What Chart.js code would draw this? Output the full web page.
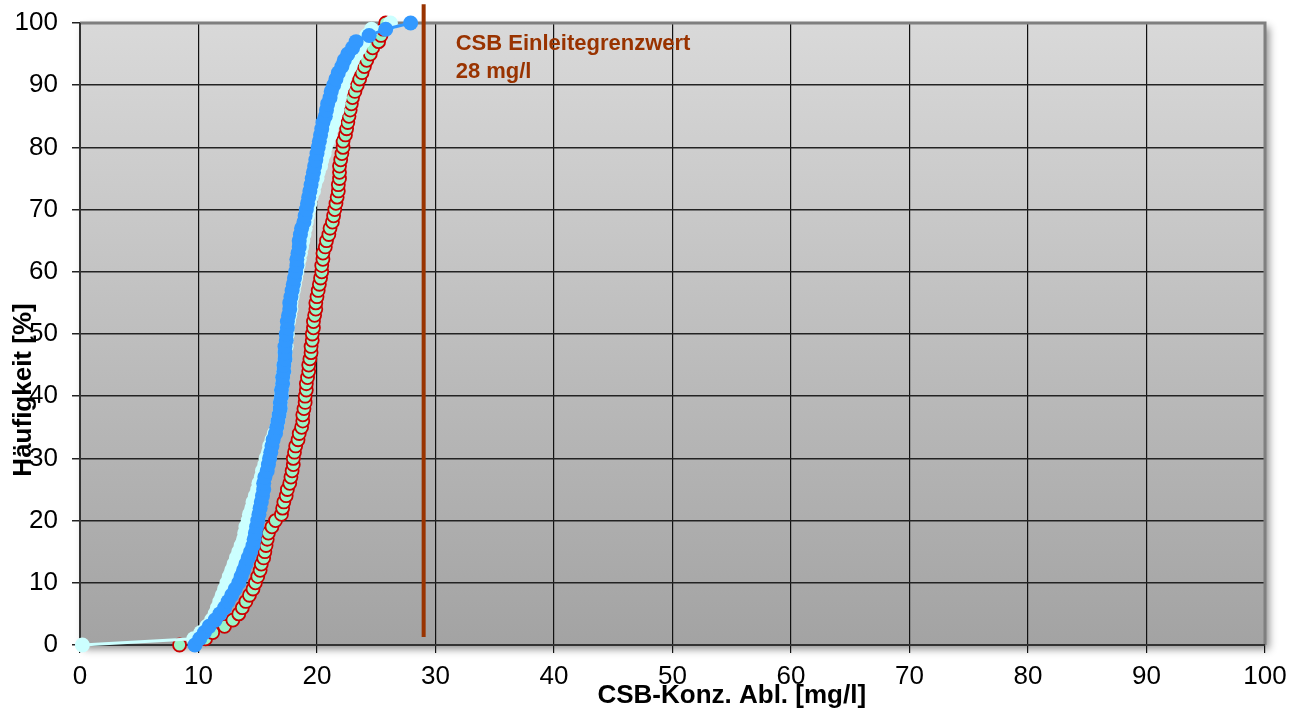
<!DOCTYPE html>
<html>
<head>
<meta charset="utf-8">
<script src="https://cdn.jsdelivr.net/npm/chart.js@4/dist/chart.umd.min.js"></script>
<style>
  html, body { margin: 0; padding: 0; background: #fff; }
  #wrap { width: 1291px; height: 714px; position: relative; }
</style>
</head>
<body>
<div id="wrap"><canvas id="chart"></canvas></div>
<script>
// ---- data ----
// cumulative frequency [%] – shared by all three curves
const pct = [0,1,2,3,4,5,6,7,8,9,10,11,12,13,14,15,16,17,18,19,20,21,22,23,24,25,26,27,28,29,30,
  31,32,33,34,35,36,37,38,39,40,41,42,43,44,45,46,47,48,49,50,51,52,53,54,55,56,57,58,59,60,
  61,62,63,64,65,66,67,68,69,70,71,72,73,74,75,76,77,78,79,80,81,82,83,84,85,86,87,88,89,90,
  91,92,93,94,95,96,97,98,99,100];

// CSB concentration [mg/l] at each percentage
const concBlue = [9.7,10.1,10.5,10.9,11.4,11.8,12.2,12.5,12.8,13.1,13.4,13.6,13.8,14.0,14.2,14.4,14.6,14.7,14.8,14.9,15.0,
  15.1,15.2,15.3,15.4,15.5,15.5,15.6,15.8,15.9,16.0,16.1,16.2,16.3,16.5,16.6,16.7,16.8,16.9,16.9,17.0,
  17.0,17.1,17.1,17.2,17.2,17.3,17.3,17.3,17.4,17.4,17.5,17.5,17.6,17.7,17.7,17.8,17.9,18.0,18.1,18.2,
  18.3,18.3,18.4,18.5,18.5,18.6,18.7,18.9,19.0,19.1,19.2,19.3,19.4,19.5,19.6,19.7,19.8,19.9,20.0,20.1,
  20.2,20.3,20.4,20.5,20.7,20.8,20.9,21.1,21.2,21.4,21.6,21.8,22.1,22.3,22.6,23.0,23.3,24.4,25.8,27.9];

const concCyan = [0.2,9.6,10.2,10.7,11.1,11.4,11.6,11.8,12.0,12.2,12.4,12.6,12.8,13.0,13.2,13.4,13.6,13.8,13.9,14.0,14.2,
  14.3,14.5,14.6,14.8,15.0,15.1,15.3,15.4,15.6,15.7,15.9,16.0,16.2,16.4,16.6,16.7,16.8,16.9,16.9,17.0,
  17.0,17.1,17.1,17.2,17.2,17.3,17.3,17.4,17.4,17.5,17.5,17.6,17.7,17.8,17.8,17.9,18.0,18.1,18.2,18.3,
  18.4,18.5,18.6,18.7,18.8,18.9,19.0,19.1,19.2,19.3,19.4,19.5,19.7,19.8,20.0,20.1,20.3,20.4,20.6,20.7,
  20.9,21.1,21.2,21.4,21.5,21.7,21.8,21.9,22.0,22.2,22.3,22.5,22.8,23.0,23.3,23.6,23.9,24.2,24.6,26.2];

const concRed = [8.4,10.6,11.2,12.2,12.9,13.4,13.7,14.0,14.3,14.6,14.8,15.0,15.2,15.3,15.5,15.6,15.7,15.8,15.9,16.2,16.5,
  17.0,17.1,17.2,17.4,17.5,17.7,17.8,17.9,18.0,18.0,18.1,18.2,18.4,18.5,18.7,18.8,18.8,18.9,19.0,19.0,
  19.1,19.1,19.2,19.3,19.3,19.4,19.5,19.5,19.6,19.6,19.7,19.7,19.8,19.9,19.9,20.0,20.1,20.2,20.3,20.4,
  20.4,20.5,20.5,20.7,20.8,21.0,21.1,21.3,21.4,21.5,21.6,21.7,21.8,21.8,21.9,21.9,21.9,22.0,22.1,22.2,
  22.2,22.4,22.5,22.6,22.7,22.8,22.9,23.0,23.2,23.4,23.6,23.8,24.0,24.2,24.5,24.7,25.2,25.4,25.6,25.8];

// limit line
const limitX = [29, 29];
const limitY = [1.3, 103];
const limitLabel = ["CSB Einleitegrenzwert", "28 mg/l"];

const xTicks = [0,10,20,30,40,50,60,70,80,90,100];
const yTicks = [0,10,20,30,40,50,60,70,80,90,100];
const xTitle = "CSB-Konz. Abl. [mg/l]";
const yTitle = "Häufigkeit [%]";

const pairs = (xs, ys) => xs.map((x, i) => ({ x, y: ys[i] }));

// ---- plot area background, frame, titles, note ----
const plotDeco = {
  id: "plotDeco",
  beforeDraw(chart) {
    const { ctx, chartArea: a } = chart;
    ctx.save();
    const g = ctx.createLinearGradient(0, a.top, 0, a.bottom);
    g.addColorStop(0, "#d9d9d9");
    g.addColorStop(1, "#a3a3a3");
    ctx.shadowColor = "rgba(0,0,0,0.45)";
    ctx.shadowBlur = 8;
    ctx.shadowOffsetX = 4;
    ctx.shadowOffsetY = 4;
    ctx.fillStyle = g;
    ctx.fillRect(a.left, a.top, a.right - a.left, a.bottom - a.top);
    ctx.restore();
  },
  beforeDatasetsDraw(chart) {
    const { ctx, chartArea: a } = chart;
    ctx.save();
    ctx.strokeStyle = "#7f7f7f";
    ctx.lineWidth = 3;
    ctx.beginPath();
    ctx.moveTo(a.left, a.top); ctx.lineTo(a.right, a.top); ctx.lineTo(a.right, a.bottom);
    ctx.stroke();
    ctx.strokeStyle = "#333";
    ctx.lineWidth = 2;
    ctx.beginPath();
    ctx.moveTo(a.left, a.top); ctx.lineTo(a.left, a.bottom); ctx.lineTo(a.right, a.bottom);
    ctx.stroke();
    ctx.restore();
  },
  afterDraw(chart) {
    const { ctx, chartArea: a, scales } = chart;
    ctx.save();
    // note next to the limit line
    ctx.fillStyle = "#993300";
    ctx.font = "bold 22px 'Liberation Sans', Arial, sans-serif";
    ctx.textBaseline = "middle";
    ctx.textAlign = "left";
    const nx = scales.x.getPixelForValue(31.7);
    ctx.fillText(limitLabel[0], nx, scales.y.getPixelForValue(96.6));
    ctx.fillText(limitLabel[1], nx, scales.y.getPixelForValue(92.1));
    // axis titles
    ctx.fillStyle = "#000";
    ctx.font = "bold 26px 'Liberation Sans', Arial, sans-serif";
    ctx.textAlign = "center";
    ctx.fillText(xTitle, scales.x.getPixelForValue(55), a.bottom + 51);
    ctx.translate(24, scales.y.getPixelForValue(41));
    ctx.rotate(-Math.PI / 2);
    ctx.fillText(yTitle, 0, 0);
    ctx.restore();
  }
};

const tickFont = { family: "'Liberation Sans', Arial, sans-serif", size: 26 };

new Chart(document.getElementById("chart"), {
  type: "scatter",
  data: {
    datasets: [
      {
        label: "Grenzwert",
        data: pairs(limitX, limitY),
        showLine: true,
        borderColor: "#993300",
        borderWidth: 4,
        pointRadius: 0,
        clip: false
      },
      {
        label: "Blau",
        data: pairs(concBlue, pct),
        showLine: true,
        borderColor: "#3399ff",
        borderWidth: 3,
        pointRadius: 7.5,
        pointBackgroundColor: "#3399ff",
        pointBorderColor: "#3399ff",
        pointBorderWidth: 0,
        clip: false
      },
      {
        label: "Cyan",
        data: pairs(concCyan, pct),
        showLine: true,
        borderColor: "#ccffff",
        borderWidth: 3,
        pointRadius: 7.5,
        pointBackgroundColor: "#ccffff",
        pointBorderColor: "#ccffff",
        pointBorderWidth: 0,
        clip: false
      },
      {
        label: "Rot",
        data: pairs(concRed, pct),
        showLine: false,
        pointRadius: 6.5,
        pointBackgroundColor: "#99f5c8",
        pointBorderColor: "#cc0000",
        pointBorderWidth: 1.8,
        clip: false
      }
    ]
  },
  plugins: [plotDeco],
  options: {
    responsive: true,
    maintainAspectRatio: false,
    animation: false,
    layout: { padding: { left: 0, top: 23, right: 26, bottom: 0 } },
    plugins: { legend: { display: false }, tooltip: { enabled: false } },
    scales: {
      x: {
        type: "linear",
        min: 0, max: 100,
        afterBuildTicks: s => { s.ticks = xTicks.map(v => ({ value: v })); },
        afterFit: s => { s.height = 69; s.paddingLeft = 0; s.paddingRight = 0; },
        grid: { color: "#111", lineWidth: 1.2, tickLength: 8 },
        border: { display: false },
        ticks: { color: "#000", font: tickFont, padding: 8, maxRotation: 0 }
      },
      y: {
        type: "linear",
        min: 0, max: 100,
        afterBuildTicks: s => { s.ticks = yTicks.map(v => ({ value: v })); },
        afterFit: s => { s.width = 80; s.paddingTop = 0; s.paddingBottom = 0; },
        grid: { color: "#222", lineWidth: 1.5, tickLength: 8 },
        border: { display: false },
        ticks: { color: "#000", font: tickFont, padding: 14 }
      }
    }
  }
});
</script>
</body>
</html>
